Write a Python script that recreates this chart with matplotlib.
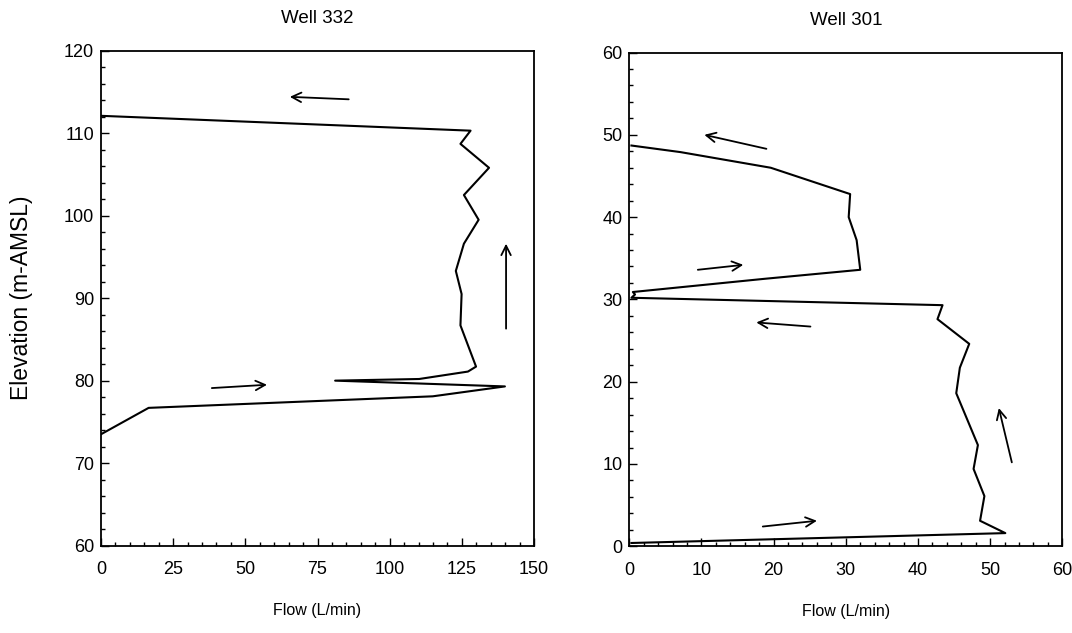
import matplotlib.pyplot as plt
from matplotlib.ticker import MultipleLocator

plt.rcParams['font.family'] = ['Liberation Sans', 'DejaVu Sans']

# Well 332 flow profile (flow L/min, elevation m-AMSL)
w332_flow = [0, 128.0, 124.5, 134.4, 125.7, 130.8, 125.7, 122.9, 124.9, 124.5,
             129.9, 127.1, 110.2, 81.1, 139.9, 114.9, 16.5, 0]
w332_elev = [112.1, 110.3, 108.7, 105.8, 102.5, 99.5, 96.6, 93.3, 90.5, 86.7,
             81.7, 81.1, 80.2, 80.0, 79.3, 78.1, 76.7, 73.5]

# Well 301 flow profile
w301_flow = [0.3, 7.1, 19.6, 30.6, 30.4, 31.5, 32.0, 18.7, 0.5, 0.8, 0.3,
             43.4, 42.7, 47.1, 45.8, 45.3, 48.3, 47.7, 49.2, 48.6, 52.1, 0.3]
w301_elev = [48.7, 47.9, 46.0, 42.8, 40.0, 37.2, 33.6, 32.5, 30.9, 30.6, 30.2,
             29.3, 27.6, 24.6, 21.7, 18.6, 12.3, 9.4, 6.1, 3.1, 1.6, 0.4]

# flow direction arrows: (tail x, tail y, head x, head y)
w332_arrows = [(85.8, 114.1, 65.4, 114.4),
               (140.3, 86.3, 140.3, 96.6),
               (38.4, 79.1, 57.5, 79.5)]
w301_arrows = [(19.0, 48.3, 10.4, 50.0),
               (9.5, 33.6, 15.8, 34.2),
               (25.1, 26.7, 17.6, 27.2),
               (53.0, 10.2, 51.2, 16.8),
               (18.5, 2.4, 26.0, 3.1)]

fig = plt.figure(figsize=(10.72, 6.33), dpi=100)
ax1 = fig.add_axes([0.0942, 0.138, 0.404, 0.782])
ax2 = fig.add_axes([0.587, 0.137, 0.404, 0.780])

panels = [
    (ax1, w332_flow, w332_elev, w332_arrows, "Well 332", (0, 150), (60, 120), 25, 5, 10, 2),
    (ax2, w301_flow, w301_elev, w301_arrows, "Well 301", (0, 60), (0, 60), 10, 2, 10, 2),
]

for ax, fx, ey, arrows, title, xlim, ylim, xmaj, xmin, ymaj, ymin in panels:
    ax.plot(fx, ey, color='black', lw=1.5)
    for x0, y0, x1, y1 in arrows:
        ax.annotate("", xy=(x1, y1), xytext=(x0, y0),
                    arrowprops=dict(arrowstyle='->', color='black', lw=1.3,
                                    mutation_scale=17, shrinkA=0, shrinkB=0))
    ax.set_xlim(*xlim)
    ax.set_ylim(*ylim)
    ax.xaxis.set_major_locator(MultipleLocator(xmaj))
    ax.xaxis.set_minor_locator(MultipleLocator(xmin))
    ax.yaxis.set_major_locator(MultipleLocator(ymaj))
    ax.yaxis.set_minor_locator(MultipleLocator(ymin))
    ax.tick_params(which='both', direction='in', top=False, right=False,
                   labelsize=13, width=1)
    ax.tick_params(which='major', length=6)
    ax.tick_params(which='minor', length=3)
    ax.tick_params(axis='x', which='major', pad=11)
    ax.tick_params(axis='y', which='major', pad=5)
    for s in ax.spines.values():
        s.set_linewidth(1.3)
    ax.set_title(title, fontsize=13.5, pad=20)
    ax.set_xlabel("Flow (L/min)", fontsize=11.5, labelpad=18)

ax1.set_ylabel("Elevation (m-AMSL)", fontsize=16.5, labelpad=22)

fig.savefig("out.png", dpi=100)
